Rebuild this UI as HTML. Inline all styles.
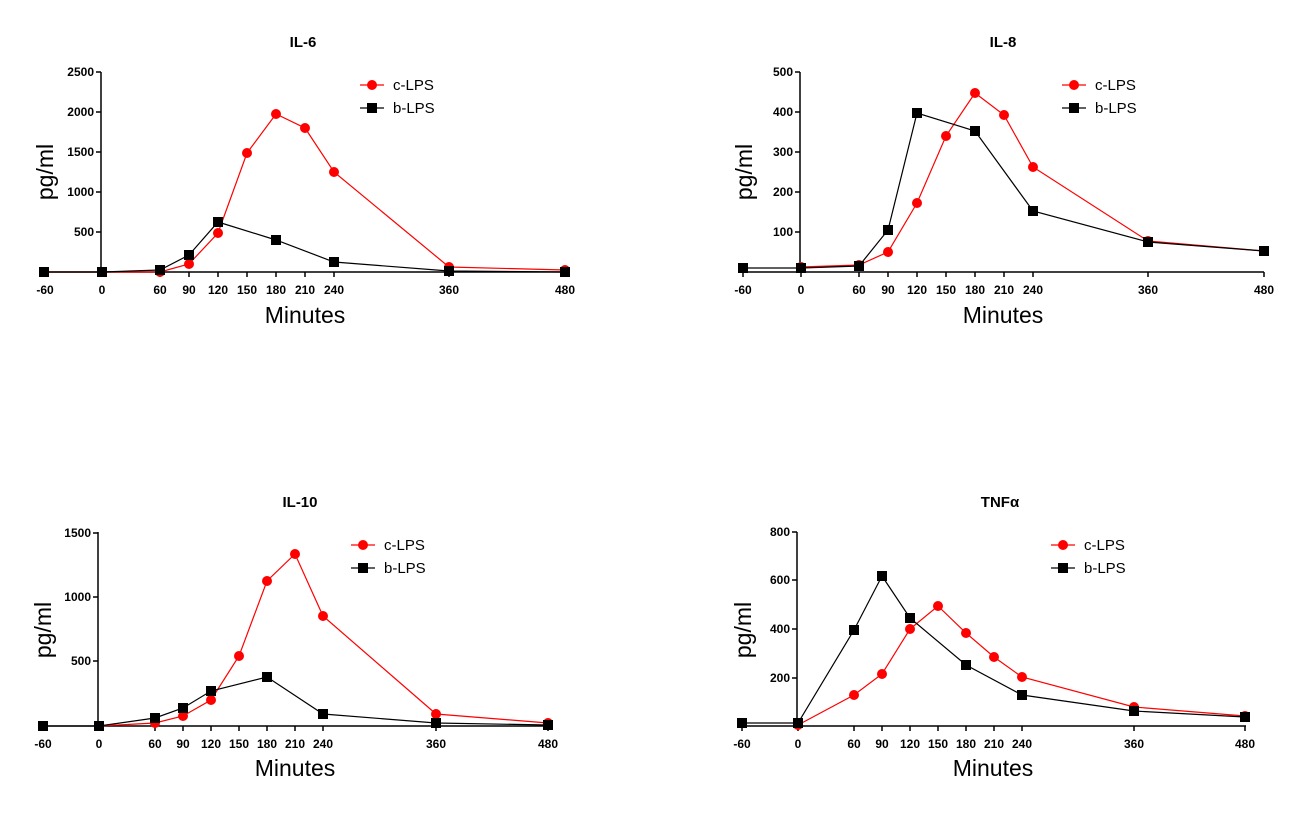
<!DOCTYPE html>
<html><head><meta charset="utf-8"><style>
body{margin:0;background:#fff}
svg{display:block;font-family:"Liberation Sans",Arial,sans-serif}
.t{font-size:12px;font-weight:bold;fill:#000}
.ti{font-size:15px;font-weight:bold}
.ax{font-size:23px}
.lg{font-size:15px}
.r{fill:none;stroke:#f00;stroke-width:1.2}
.k{fill:none;stroke:#000;stroke-width:1.2}
.a{stroke:#000;stroke-width:1.5;fill:none}
</style></head><body>
<svg width="1300" height="828" viewBox="0 0 1300 828">
<defs>
<g id="rc"><circle r="5" fill="#f00"/></g>
<g id="bs"><rect x="-5" y="-5" width="10" height="10" fill="#000"/></g>
</defs>

<!-- IL-6 -->
<text class="ti" x="303" y="47" text-anchor="middle">IL-6</text>
<path class="a" d="M101 72V272M44 272H565M96 72H101M96 112H101M96 152H101M96 192H101M96 232H101M44 272v5M102 272v5M160 272v5M189 272v5M218 272v5M247 272v5M276 272v5M305 272v5M334 272v5M449 272v5M565 272v5"/>
<g class="t" text-anchor="end"><text x="94" y="76">2500</text><text x="94" y="116">2000</text><text x="94" y="156">1500</text><text x="94" y="196">1000</text><text x="94" y="236">500</text></g>
<g class="t" text-anchor="middle"><text x="45" y="294">-60</text><text x="102" y="294">0</text><text x="160" y="294">60</text><text x="189" y="294">90</text><text x="218" y="294">120</text><text x="247" y="294">150</text><text x="276" y="294">180</text><text x="305" y="294">210</text><text x="334" y="294">240</text><text x="449" y="294">360</text><text x="565" y="294">480</text></g>
<text class="ax" x="305" y="323" text-anchor="middle">Minutes</text>
<text class="ax" transform="translate(53,172) rotate(-90)" text-anchor="middle">pg/ml</text>
<polyline class="r" points="44,272 102,272 160,272 189,264 218,233 247,153 276,114 305,128 334,172 449,267 565,270"/>
<polyline class="k" points="44,272 102,272 160,270 189,255 218,222 276,240 334,262 449,271 565,272"/>
<g fill="#f00"><circle cx="160" cy="272" r="5"/><circle cx="189" cy="264" r="5"/><circle cx="218" cy="233" r="5"/><circle cx="247" cy="153" r="5"/><circle cx="276" cy="114" r="5"/><circle cx="305" cy="128" r="5"/><circle cx="334" cy="172" r="5"/><circle cx="449" cy="267" r="5"/><circle cx="565" cy="270" r="5"/></g>
<g fill="#000"><rect x="39" y="267" width="10" height="10"/><rect x="97" y="267" width="10" height="10"/><rect x="155" y="265" width="10" height="10"/><rect x="184" y="250" width="10" height="10"/><rect x="213" y="217" width="10" height="10"/><rect x="271" y="235" width="10" height="10"/><rect x="329" y="257" width="10" height="10"/><rect x="444" y="266" width="10" height="10"/><rect x="560" y="267" width="10" height="10"/></g>
<line x1="360" y1="85" x2="384" y2="85" stroke="#f00" stroke-width="1.2"/><circle cx="372" cy="85" r="5" fill="#f00"/>
<line x1="360" y1="108" x2="384" y2="108" stroke="#000" stroke-width="1.2"/><rect x="367" y="103" width="10" height="10"/>
<text class="lg" x="393" y="90">c-LPS</text><text class="lg" x="393" y="113">b-LPS</text>

<!-- IL-8 -->
<text class="ti" x="1003" y="47" text-anchor="middle">IL-8</text>
<path class="a" d="M800 72V272M743 272H1264M795 72H800M795 112H800M795 152H800M795 192H800M795 232H800M743 272v5M801 272v5M859 272v5M888 272v5M917 272v5M946 272v5M975 272v5M1004 272v5M1033 272v5M1148 272v5M1264 272v5"/>
<g class="t" text-anchor="end"><text x="793" y="76">500</text><text x="793" y="116">400</text><text x="793" y="156">300</text><text x="793" y="196">200</text><text x="793" y="236">100</text></g>
<g class="t" text-anchor="middle"><text x="743" y="294">-60</text><text x="801" y="294">0</text><text x="859" y="294">60</text><text x="888" y="294">90</text><text x="917" y="294">120</text><text x="946" y="294">150</text><text x="975" y="294">180</text><text x="1004" y="294">210</text><text x="1033" y="294">240</text><text x="1148" y="294">360</text><text x="1264" y="294">480</text></g>
<text class="ax" x="1003" y="323" text-anchor="middle">Minutes</text>
<text class="ax" transform="translate(752,172) rotate(-90)" text-anchor="middle">pg/ml</text>
<polyline class="r" points="801,267 859,265 888,252 917,203 946,136 975,93 1004,115 1033,167 1148,241 1264,251"/>
<polyline class="k" points="743,268 801,268 859,266 888,230 917,113 975,131 1033,211 1148,242 1264,251"/>
<g fill="#f00"><circle cx="801" cy="267" r="5"/><circle cx="859" cy="265" r="5"/><circle cx="888" cy="252" r="5"/><circle cx="917" cy="203" r="5"/><circle cx="946" cy="136" r="5"/><circle cx="975" cy="93" r="5"/><circle cx="1004" cy="115" r="5"/><circle cx="1033" cy="167" r="5"/><circle cx="1148" cy="241" r="5"/><circle cx="1264" cy="251" r="5"/></g>
<g fill="#000"><rect x="738" y="263" width="10" height="10"/><rect x="796" y="263" width="10" height="10"/><rect x="854" y="261" width="10" height="10"/><rect x="883" y="225" width="10" height="10"/><rect x="912" y="108" width="10" height="10"/><rect x="970" y="126" width="10" height="10"/><rect x="1028" y="206" width="10" height="10"/><rect x="1143" y="237" width="10" height="10"/><rect x="1259" y="246" width="10" height="10"/></g>
<line x1="1062" y1="85" x2="1086" y2="85" stroke="#f00" stroke-width="1.2"/><circle cx="1074" cy="85" r="5" fill="#f00"/>
<line x1="1062" y1="108" x2="1086" y2="108" stroke="#000" stroke-width="1.2"/><rect x="1069" y="103" width="10" height="10"/>
<text class="lg" x="1095" y="90">c-LPS</text><text class="lg" x="1095" y="113">b-LPS</text>

<!-- IL-10 -->
<text class="ti" x="300" y="507" text-anchor="middle">IL-10</text>
<path class="a" d="M98 532V726M43 726H548M93 533H98M93 597H98M93 661H98M43 726v5M99 726v5M155 726v5M183 726v5M211 726v5M239 726v5M267 726v5M295 726v5M323 726v5M436 726v5M548 726v5"/>
<g class="t" text-anchor="end"><text x="91" y="537">1500</text><text x="91" y="601">1000</text><text x="91" y="665">500</text></g>
<g class="t" text-anchor="middle"><text x="43" y="748">-60</text><text x="99" y="748">0</text><text x="155" y="748">60</text><text x="183" y="748">90</text><text x="211" y="748">120</text><text x="239" y="748">150</text><text x="267" y="748">180</text><text x="295" y="748">210</text><text x="323" y="748">240</text><text x="436" y="748">360</text><text x="548" y="748">480</text></g>
<text class="ax" x="295" y="776" text-anchor="middle">Minutes</text>
<text class="ax" transform="translate(51,630) rotate(-90)" text-anchor="middle">pg/ml</text>
<polyline class="r" points="99,726 155,723 183,716 211,700 239,656 267,581 295,554 323,616 436,714 548,723"/>
<polyline class="k" points="43,726 99,726 155,718 183,708 211,691 267,677 323,714 436,723 548,725"/>
<g fill="#f00"><circle cx="99" cy="726" r="5"/><circle cx="155" cy="723" r="5"/><circle cx="183" cy="716" r="5"/><circle cx="211" cy="700" r="5"/><circle cx="239" cy="656" r="5"/><circle cx="267" cy="581" r="5"/><circle cx="295" cy="554" r="5"/><circle cx="323" cy="616" r="5"/><circle cx="436" cy="714" r="5"/><circle cx="548" cy="723" r="5"/></g>
<g fill="#000"><rect x="38" y="721" width="10" height="10"/><rect x="94" y="721" width="10" height="10"/><rect x="150" y="713" width="10" height="10"/><rect x="178" y="703" width="10" height="10"/><rect x="206" y="686" width="10" height="10"/><rect x="262" y="672" width="10" height="10"/><rect x="318" y="709" width="10" height="10"/><rect x="431" y="718" width="10" height="10"/><rect x="543" y="720" width="10" height="10"/></g>
<line x1="351" y1="545" x2="375" y2="545" stroke="#f00" stroke-width="1.2"/><circle cx="363" cy="545" r="5" fill="#f00"/>
<line x1="351" y1="568" x2="375" y2="568" stroke="#000" stroke-width="1.2"/><rect x="358" y="563" width="10" height="10"/>
<text class="lg" x="384" y="550">c-LPS</text><text class="lg" x="384" y="573">b-LPS</text>

<!-- TNF -->
<text class="ti" x="1000" y="507" text-anchor="middle">TNFα</text>
<path class="a" d="M797 532V726M742 726H1246M792 532H797M792 580H797M792 629H797M792 678H797M742 726v5M798 726v5M854 726v5M882 726v5M910 726v5M938 726v5M966 726v5M994 726v5M1022 726v5M1134 726v5M1245 726v5"/>
<g class="t" text-anchor="end"><text x="790" y="536">800</text><text x="790" y="584">600</text><text x="790" y="633">400</text><text x="790" y="682">200</text></g>
<g class="t" text-anchor="middle"><text x="742" y="748">-60</text><text x="798" y="748">0</text><text x="854" y="748">60</text><text x="882" y="748">90</text><text x="910" y="748">120</text><text x="938" y="748">150</text><text x="966" y="748">180</text><text x="994" y="748">210</text><text x="1022" y="748">240</text><text x="1134" y="748">360</text><text x="1245" y="748">480</text></g>
<text class="ax" x="993" y="776" text-anchor="middle">Minutes</text>
<text class="ax" transform="translate(751,630) rotate(-90)" text-anchor="middle">pg/ml</text>
<polyline class="r" points="798,725 854,695 882,674 910,629 938,606 966,633 994,657 1022,677 1134,707 1245,716"/>
<polyline class="k" points="742,723 798,723 854,630 882,576 910,618 966,665 1022,695 1134,711 1245,717"/>
<g fill="#f00"><circle cx="798" cy="725" r="5"/><circle cx="854" cy="695" r="5"/><circle cx="882" cy="674" r="5"/><circle cx="910" cy="629" r="5"/><circle cx="938" cy="606" r="5"/><circle cx="966" cy="633" r="5"/><circle cx="994" cy="657" r="5"/><circle cx="1022" cy="677" r="5"/><circle cx="1134" cy="707" r="5"/><circle cx="1245" cy="716" r="5"/></g>
<g fill="#000"><rect x="737" y="718" width="10" height="10"/><rect x="793" y="718" width="10" height="10"/><rect x="849" y="625" width="10" height="10"/><rect x="877" y="571" width="10" height="10"/><rect x="905" y="613" width="10" height="10"/><rect x="961" y="660" width="10" height="10"/><rect x="1017" y="690" width="10" height="10"/><rect x="1129" y="706" width="10" height="10"/><rect x="1240" y="712" width="10" height="10"/></g>
<line x1="1051" y1="545" x2="1075" y2="545" stroke="#f00" stroke-width="1.2"/><circle cx="1063" cy="545" r="5" fill="#f00"/>
<line x1="1051" y1="568" x2="1075" y2="568" stroke="#000" stroke-width="1.2"/><rect x="1058" y="563" width="10" height="10"/>
<text class="lg" x="1084" y="550">c-LPS</text><text class="lg" x="1084" y="573">b-LPS</text>
</svg>
</body></html>
